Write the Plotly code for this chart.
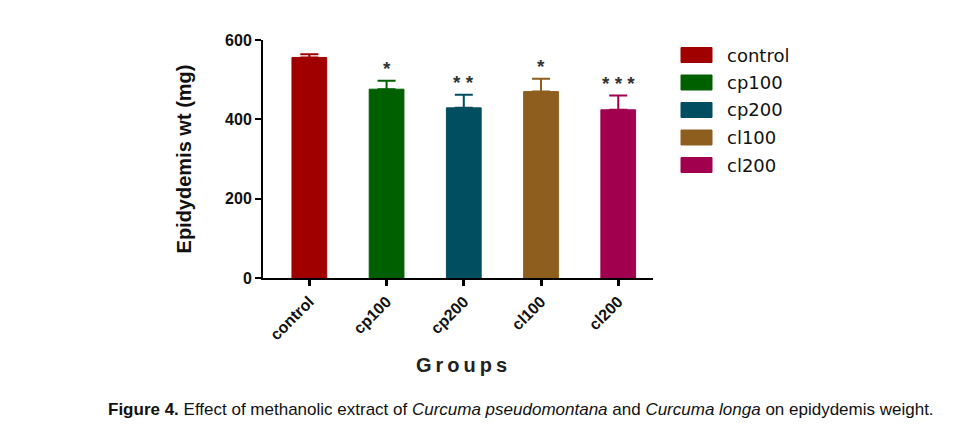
import plotly.graph_objects as go

groups = ["control", "cp100", "cp200", "cl100", "cl200"]
means = [556, 476, 429, 470, 424]
errors = [8, 21, 33, 32, 36]
stars = ["", "*", "* *", "*", "* * *"]
colors = ["#A00000", "#006000", "#004E60", "#8E5E1E", "#A0004E"]

fig = go.Figure()
for g, m, e, c in zip(groups, means, errors, colors):
    fig.add_trace(go.Bar(
        x=[g], y=[m], name=g, width=0.45,
        marker=dict(color=c, line=dict(color=c, width=1)),
        error_y=dict(type="data", symmetric=False, array=[e], arrayminus=[0],
                     color=c, thickness=2, width=9),
        showlegend=False,
    ))

for g, m, e, s in zip(groups, means, errors, stars):
    if s:
        fig.add_annotation(x=g, y=m + e, text="<b>%s</b>" % s, showarrow=False, yanchor="bottom",
                           yshift=0, font=dict(family="Liberation Sans", size=19, color="#333"))

# legend drawn as swatches + labels
for i, (g, c) in enumerate(zip(groups, colors)):
    y0 = 55 + i * 27.5
    fig.add_shape(type="rect", xref="paper", yref="paper",
                  x0=(681 - 263) / 390, x1=(712 - 263) / 390,
                  y0=(278 - (y0 + 7.5)) / 238, y1=(278 - (y0 - 7.5)) / 238,
                  fillcolor=c, line=dict(color=c, width=1))
    fig.add_annotation(xref="paper", yref="paper", x=(725 - 263) / 390, y=(278 - y0) / 238,
                       text=g, showarrow=False, xanchor="left", yanchor="middle",
                       font=dict(family="DejaVu Sans", size=18, color="#111"))

fig.add_annotation(xref="paper", yref="paper", x=(461 - 263) / 390, y=(278 - 365) / 238,
                   text="<b>G\u2009r\u2009o\u2009u\u2009p\u2009s</b>", showarrow=False, xanchor="center", yanchor="middle",
                   font=dict(family="Liberation Sans", size=20, color="#222"))

fig.add_annotation(xref="paper", yref="paper", x=(521 - 263) / 390, y=(278 - 409) / 238,
                   text="<b>Figure 4.</b> Effect of methanolic extract of <i>Curcuma pseudomontana</i> and <i>Curcuma longa</i> on epidydemis weight.",
                   showarrow=False, xanchor="center", yanchor="middle",
                   font=dict(family="Liberation Sans Narrow, Liberation Sans", size=17, color="#111"))

fig.update_layout(
    width=961, height=434,
    margin=dict(l=263, r=308, t=40, b=156),
    paper_bgcolor="white", plot_bgcolor="white",
    barmode="overlay",
    xaxis=dict(range=[-0.6, 4.45], showline=True, linecolor="black", linewidth=2,
               ticks="outside", ticklen=6, tickwidth=3, tickcolor="black",
               tickangle=-45, showgrid=False, zeroline=False,
               tickfont=dict(family="Liberation Sans", size=16, color="#111")),
    yaxis=dict(range=[0, 600], tickvals=[0, 200, 400, 600], ticktext=["<b>0</b>", "<b>200</b>", "<b>400</b>", "<b>600</b>"],
               showline=True, linecolor="black", linewidth=2,
               ticks="outside", ticklen=6, tickwidth=2, tickcolor="black",
               showgrid=False, zeroline=False,
               title=dict(text="<b>Epidydemis wt (mg)</b>", standoff=28,
                          font=dict(family="Liberation Sans", size=20, color="#111")),
               tickfont=dict(family="Liberation Sans", size=16, color="#111")),
)
fig.update_xaxes(tickvals=groups, ticktext=["<b>%s</b>" % g for g in groups])
fig.write_html("out.html")
